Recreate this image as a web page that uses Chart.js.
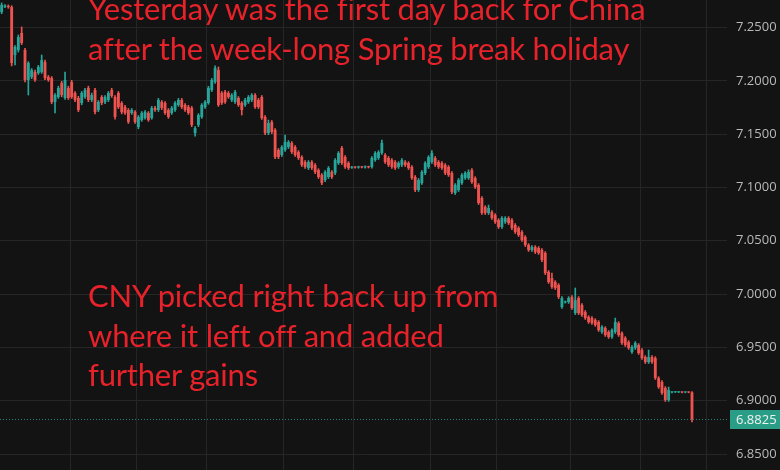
<!DOCTYPE html>
<html>
<head>
<meta charset="utf-8">
<script src="https://cdn.jsdelivr.net/npm/chart.js@4.4.1/dist/chart.umd.min.js"></script>
<style>
  html, body { margin: 0; padding: 0; background: #131313; }
  #wrap { position: relative; width: 780px; height: 470px; overflow: hidden; background: #131313; }
  canvas { position: absolute; left: 0; top: 0; }
  .note { position: absolute; left: 88px; color: #e8222a; font-family: 'Lato', sans-serif;
          font-size: 31px; letter-spacing: -0.2px; line-height: 39.5px; white-space: nowrap; }
</style>
</head>
<body>
<div id="wrap">
  <canvas id="c" width="780" height="470"></canvas>
  <div class="note" style="top:-11px">Yesterday was the first day back for China<br>after the week-long Spring break holiday</div>
  <div class="note" style="top:276px">CNY picked right back up from<br>where it left off and added<br>further gains</div>
</div>
<script>
// USD/CNH candles (oldest -> newest)
var open = [
  7.2645,7.2695,7.2700,7.2692,7.2242,7.2289,7.2448,7.2289,7.2008,7.2036,
  7.2083,7.2073,7.2083,7.2176,7.2036,7.2026,7.1801,7.1848,7.1979,7.1839,
  7.1933,7.1989,7.1886,7.1839,7.1792,7.1848,7.1933,7.1820,7.1914,7.1726,
  7.1848,7.1801,7.1820,7.1914,7.1848,7.1886,7.1792,7.1754,7.1726,7.1698,
  7.1707,7.1567,7.1632,7.1651,7.1698,7.1651,7.1745,7.1726,7.1801,7.1792,
  7.1726,7.1698,7.1726,7.1773,7.1820,7.1773,7.1754,7.1745,7.1510,7.1586,
  7.1661,7.1754,7.1792,7.1914,7.1989,7.2101,7.1886,7.1895,7.1886,7.1820,
  7.1801,7.1839,7.1792,7.1773,7.1801,7.1820,7.1867,7.1820,7.1848,7.1661,
  7.1510,7.1614,7.1539,7.1351,7.1304,7.1351,7.1379,7.1417,7.1379,7.1332,
  7.1285,7.1238,7.1182,7.1238,7.1210,7.1163,7.1117,7.1070,7.1098,7.1145,
  7.1135,7.1229,7.1370,7.1285,7.1229,7.1185,7.1190,7.1187,7.1192,7.1188,
  7.1194,7.1192,7.1257,7.1276,7.1323,7.1304,7.1276,7.1257,7.1238,7.1192,
  7.1210,7.1238,7.1229,7.1192,7.1098,7.0976,7.1041,7.1135,7.1192,7.1238,
  7.1276,7.1238,7.1229,7.1210,7.1192,7.1135,7.0948,7.0976,7.1041,7.1088,
  7.1088,7.1163,7.1088,7.1023,7.0901,7.0816,7.0760,7.0769,7.0741,7.0694,
  7.0629,7.0676,7.0713,7.0694,7.0648,7.0619,7.0582,7.0535,7.0460,7.0413,
  7.0441,7.0432,7.0413,7.0385,7.0207,7.0150,7.0113,7.0085,6.9878,6.9922,
  6.9925,6.9972,6.9822,6.9963,6.9897,6.9831,6.9784,6.9775,6.9756,6.9738,
  6.9644,6.9681,6.9644,6.9597,6.9644,6.9728,6.9634,6.9588,6.9550,6.9456,
  6.9494,6.9522,6.9475,6.9409,6.9362,6.9409,6.9400,6.9212,6.9175,6.9119,
  6.9006,6.9078,6.9080,6.9079,6.9080,6.9078,6.9080,6.9078
];
var high = [
  7.2730,7.2715,7.2712,7.2705,7.2330,7.2430,7.2505,7.2305,7.2180,7.2115,
  7.2100,7.2145,7.2242,7.2195,7.2050,7.2040,7.1880,7.1950,7.1995,7.2083,
  7.1950,7.2005,7.1900,7.1855,7.1900,7.1930,7.1950,7.1885,7.1930,7.1815,
  7.1862,7.1862,7.1900,7.1930,7.1862,7.1900,7.1805,7.1770,7.1740,7.1740,
  7.1720,7.1675,7.1712,7.1720,7.1712,7.1760,7.1760,7.1835,7.1815,7.1805,
  7.1740,7.1760,7.1805,7.1835,7.1835,7.1786,7.1770,7.1760,7.1570,7.1692,
  7.1786,7.1815,7.1948,7.2022,7.2140,7.2130,7.1900,7.1910,7.1900,7.1880,
  7.1910,7.1852,7.1805,7.1835,7.1862,7.1880,7.1880,7.1835,7.1862,7.1675,
  7.1632,7.1628,7.1552,7.1365,7.1392,7.1492,7.1440,7.1430,7.1392,7.1345,
  7.1298,7.1252,7.1252,7.1252,7.1224,7.1176,7.1130,7.1158,7.1196,7.1158,
  7.1270,7.1336,7.1385,7.1298,7.1242,7.1198,7.1196,7.1200,7.1198,7.1202,
  7.1200,7.1290,7.1336,7.1345,7.1445,7.1318,7.1290,7.1270,7.1252,7.1242,
  7.1270,7.1252,7.1242,7.1205,7.1112,7.1084,7.1158,7.1242,7.1298,7.1345,
  7.1290,7.1252,7.1242,7.1224,7.1205,7.1148,7.1036,7.1084,7.1130,7.1148,
  7.1165,7.1176,7.1101,7.1036,7.0914,7.0829,7.0835,7.0782,7.0754,7.0707,
  7.0726,7.0726,7.0726,7.0707,7.0661,7.0632,7.0595,7.0548,7.0473,7.0454,
  7.0454,7.0445,7.0426,7.0398,7.0220,7.0197,7.0126,7.0098,6.9976,6.9935,
  6.9976,6.9985,7.0057,6.9976,6.9910,6.9845,6.9797,6.9788,6.9769,6.9751,
  6.9704,6.9694,6.9657,6.9675,6.9775,6.9741,6.9647,6.9601,6.9563,6.9516,
  6.9554,6.9535,6.9488,6.9422,6.9475,6.9422,6.9413,6.9225,6.9188,6.9132,
  6.9128,6.9086,6.9084,6.9085,6.9084,6.9084,6.9083,6.9085
];
var low = [
  7.2630,7.2685,7.2680,7.2140,7.2148,7.2270,7.2340,7.1990,7.1867,7.2020,
  7.1995,7.2060,7.2070,7.2010,7.1995,7.1785,7.1698,7.1835,7.1850,7.1825,
  7.1825,7.1835,7.1805,7.1710,7.1775,7.1835,7.1805,7.1805,7.1690,7.1710,
  7.1775,7.1785,7.1805,7.1845,7.1640,7.1740,7.1690,7.1685,7.1600,7.1685,
  7.1600,7.1550,7.1620,7.1640,7.1620,7.1640,7.1712,7.1712,7.1730,7.1685,
  7.1648,7.1685,7.1712,7.1760,7.1740,7.1712,7.1685,7.1570,7.1480,7.1570,
  7.1648,7.1740,7.1780,7.1900,7.1975,7.1760,7.1778,7.1788,7.1835,7.1805,
  7.1788,7.1760,7.1679,7.1760,7.1788,7.1805,7.1740,7.1740,7.1638,7.1495,
  7.1495,7.1505,7.1270,7.1270,7.1290,7.1338,7.1365,7.1318,7.1290,7.1262,
  7.1196,7.1178,7.1168,7.1168,7.1130,7.1084,7.1026,7.1055,7.1084,7.1084,
  7.1120,7.1215,7.1215,7.1178,7.1168,7.1178,7.1180,7.1180,7.1182,7.1180,
  7.1182,7.1180,7.1245,7.1262,7.1310,7.1225,7.1196,7.1178,7.1168,7.1178,
  7.1196,7.1196,7.1168,7.1075,7.0960,7.0962,7.1028,7.1120,7.1178,7.1225,
  7.1196,7.1178,7.1168,7.1120,7.1103,7.0942,7.0934,7.0962,7.1028,7.1075,
  7.1075,7.1038,7.0990,7.0840,7.0746,7.0746,7.0746,7.0700,7.0662,7.0615,
  7.0615,7.0662,7.0652,7.0605,7.0568,7.0540,7.0493,7.0446,7.0400,7.0400,
  7.0380,7.0372,7.0305,7.0183,7.0100,7.0052,7.0043,6.9958,6.9865,6.9915,
  6.9912,6.9855,6.9808,6.9808,6.9790,6.9762,6.9725,6.9715,6.9697,6.9650,
  6.9630,6.9603,6.9584,6.9584,6.9630,6.9603,6.9528,6.9509,6.9481,6.9443,
  6.9481,6.9434,6.9387,6.9349,6.9349,6.9349,6.9199,6.9115,6.9059,6.8993,
  6.8993,6.9074,6.9076,6.9075,6.9074,6.9074,6.9074,6.8800
];
var close = [
  7.2711,7.2705,7.2692,7.2167,7.2317,7.2411,7.2355,7.2008,7.2167,7.2101,
  7.2008,7.2130,7.2195,7.2026,7.2008,7.1801,7.1867,7.1933,7.1867,7.2008,
  7.1839,7.1848,7.1820,7.1726,7.1886,7.1914,7.1820,7.1867,7.1707,7.1801,
  7.1792,7.1848,7.1886,7.1858,7.1661,7.1754,7.1707,7.1698,7.1614,7.1726,
  7.1614,7.1661,7.1698,7.1707,7.1632,7.1745,7.1726,7.1820,7.1745,7.1698,
  7.1661,7.1745,7.1792,7.1820,7.1754,7.1726,7.1698,7.1586,7.1557,7.1679,
  7.1773,7.1801,7.1933,7.2008,7.2120,7.1773,7.1792,7.1801,7.1848,7.1867,
  7.1895,7.1773,7.1726,7.1820,7.1848,7.1867,7.1754,7.1754,7.1651,7.1510,
  7.1604,7.1520,7.1285,7.1285,7.1379,7.1426,7.1426,7.1332,7.1304,7.1276,
  7.1210,7.1192,7.1238,7.1182,7.1145,7.1098,7.1041,7.1145,7.1182,7.1098,
  7.1257,7.1323,7.1229,7.1192,7.1182,7.1190,7.1187,7.1192,7.1188,7.1194,
  7.1190,7.1276,7.1323,7.1332,7.1417,7.1238,7.1210,7.1192,7.1182,7.1229,
  7.1257,7.1210,7.1182,7.1088,7.0976,7.1070,7.1145,7.1229,7.1285,7.1323,
  7.1210,7.1192,7.1182,7.1135,7.1117,7.0957,7.1023,7.1070,7.1117,7.1135,
  7.1145,7.1051,7.1004,7.0854,7.0760,7.0760,7.0807,7.0713,7.0676,7.0629,
  7.0713,7.0713,7.0666,7.0619,7.0582,7.0554,7.0507,7.0460,7.0413,7.0441,
  7.0394,7.0385,7.0319,7.0197,7.0113,7.0066,7.0057,6.9972,6.9963,6.9928,
  6.9963,6.9869,6.9944,6.9822,6.9803,6.9775,6.9738,6.9728,6.9710,6.9662,
  6.9691,6.9616,6.9597,6.9662,6.9738,6.9616,6.9541,6.9522,6.9494,6.9503,
  6.9541,6.9447,6.9400,6.9362,6.9409,6.9362,6.9212,6.9128,6.9072,6.9006,
  6.9100,6.9082,6.9080,6.9081,6.9078,6.9080,6.9078,6.8825
];
var emptySlots = 10;                 // blank bars on the right like the TV margin
var yTicksStep = 0.05;
var gridAt = [21, 41, 62, 85, 106, 129, 149, 171, 192, 212];   // vertical grid lines (slot index)

var UP = '#26a69a', DOWN = '#ef5350', GRID = '#262626';

var labels = [];
for (var i = 0; i < open.length + emptySlots; i++) labels.push('' + i);
var colors = open.map(function(o, i) { return close[i] >= o ? UP : DOWN; });

var lastClose = close[close.length - 1];

var priceTag = {
  id: 'priceTag',
  afterDraw: function(chart) {
    var ctx = chart.ctx, y = chart.scales.y.getPixelForValue(lastClose);
    var a = chart.chartArea;
    ctx.save();
    ctx.strokeStyle = 'rgba(38,166,154,0.75)';
    ctx.setLineDash([1, 2]);
    ctx.lineWidth = 1;
    ctx.beginPath();
    ctx.moveTo(a.left, Math.round(y) + 0.5);
    ctx.lineTo(a.right, Math.round(y) + 0.5);
    ctx.stroke();
    ctx.setLineDash([]);
    ctx.fillStyle = '#2a9d86';
    ctx.fillRect(a.right + 3, Math.round(y) - 9, chart.width - a.right - 3, 19);
    ctx.fillStyle = '#f2f2f2';
    ctx.font = '13px "Open Sans"';
    ctx.textBaseline = 'middle';
    ctx.fillText(lastClose.toFixed(4), a.right + 9, y + 1);
    ctx.restore();
  }
};

new Chart(document.getElementById('c'), {
  type: 'bar',
  data: {
    labels: labels,
    datasets: [
      {
        label: 'body',
        data: open.map(function(o, i) { return [o, close[i]]; }),
        backgroundColor: colors,
        borderWidth: 0,
        grouped: false,
        categoryPercentage: 1,
        barPercentage: 0.85,
        minBarLength: 1,
        order: 0
      },
      {
        label: 'wick',
        data: low.map(function(l, i) { return [l, high[i]]; }),
        backgroundColor: colors,
        borderWidth: 0,
        grouped: false,
        barThickness: 1,
        order: 1
      }
    ]
  },
  options: {
    responsive: false,
    animation: false,
    devicePixelRatio: 1,
    layout: { padding: 0 },
    plugins: { legend: { display: false }, tooltip: { enabled: false } },
    scales: {
      x: {
        ticks: { display: false },
        border: { display: false },
        grid: {
          offset: true,
          drawTicks: false,
          color: function(c) { return gridAt.indexOf(c.index) >= 0 ? GRID : 'rgba(0,0,0,0)'; }
        },
        afterFit: function(s) { s.height = 0; s.paddingLeft = 0; s.paddingRight = 0; }
      },
      y: {
        position: 'right',
        min: 6.835,
        max: 7.2758,
        border: { display: false },
        grid: { color: GRID, drawTicks: false },
        ticks: {
          stepSize: yTicksStep,
          includeBounds: false,
          color: '#b9b9b9',
          padding: 9,
          font: { family: 'Open Sans', size: 13 },
          callback: function(v) { return Number(v).toFixed(4); }
        },
        afterFit: function(s) { s.width = 53; s.paddingTop = 0; s.paddingBottom = 0; }
      }
    }
  },
  plugins: [priceTag]
});
</script>
</body>
</html>
